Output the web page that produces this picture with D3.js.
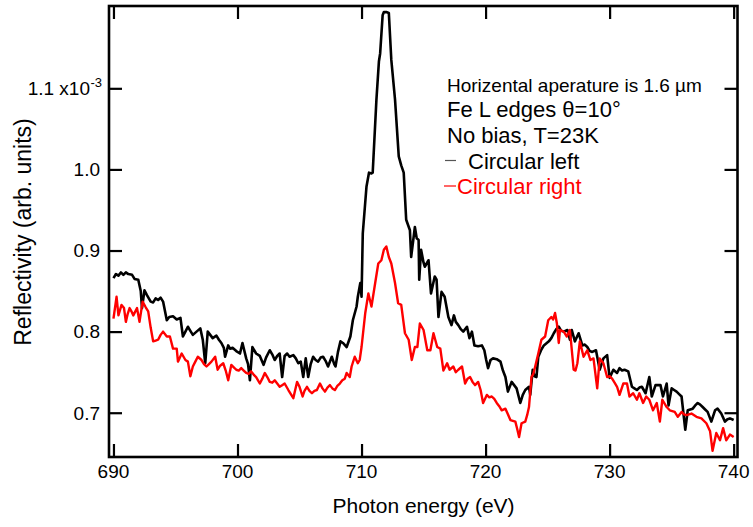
<!DOCTYPE html>
<html><head><meta charset="utf-8">
<script src="https://cdn.jsdelivr.net/npm/d3@7"></script>
<style>body{margin:0;background:#fff}text{font-family:"Liberation Sans",Arial,sans-serif}</style>
</head><body><div id="chart"></div>
<script>
// ---- data ----
const xTicks = [690, 700, 710, 720, 730, 740];
const yTicks = [0.7, 0.8, 0.9, 1.0, 1.1];
const yTickLabels = ["0.7", "0.8", "0.9", "1.0", "1.1 x10"];
const legendLines = ["Horizental aperature is 1.6 µm", "Fe L edges θ=10°", "No bias, T=23K"];
const seriesNames = ["Circular left", "Circular right"];

const leftE = [690.0,690.2,690.4,690.6,690.8,691.0,691.2,691.5,691.7,692.0,692.2,692.3,692.5,692.7,693.0,693.2,693.4,693.6,693.8,694.0,694.3,694.5,694.8,695.1,695.4,695.6,695.8,696.0,696.2,696.4,696.7,697.0,697.2,697.4,697.6,697.8,698.0,698.3,698.5,698.7,698.9,699.0,699.25,699.4,699.6,699.9,700.2,700.4,700.7,700.85,701.0,701.2,701.5,701.8,702.1,702.3,702.6,702.8,703.0,703.2,703.4,703.6,703.8,704.0,704.2,704.5,704.7,704.9,705.1,705.3,705.5,705.7,705.9,706.1,706.3,706.5,706.7,706.9,707.1,707.3,707.6,707.8,707.9,708.1,708.3,708.5,708.8,709.1,709.3,709.6,709.7,709.9,710.0,710.1,710.4,710.6,710.8,710.9,711.2,711.4,711.5,711.7,711.8,712.0,712.2,712.4,712.7,713.0,713.2,713.4,713.6,713.9,714.0,714.3,714.45,714.6,714.65,714.8,715.0,715.1,715.4,715.6,715.9,716.05,716.2,716.45,716.7,717.0,717.25,717.45,717.6,717.8,718.0,718.2,718.5,718.7,718.9,719.1,719.4,719.7,719.9,720.05,720.2,720.4,720.6,720.9,721.2,721.4,721.6,721.8,722.1,722.3,722.5,722.8,723.0,723.2,723.5,723.6,723.8,723.95,724.1,724.25,724.5,724.7,725.1,725.3,725.5,725.7,725.9,726.1,726.3,726.6,726.8,726.95,727.2,727.5,727.8,728.0,728.2,728.4,728.6,728.9,729.2,729.5,729.8,730.0,730.3,730.6,730.8,731.0,731.2,731.5,731.8,732.0,732.2,732.4,732.6,732.9,733.2,733.4,733.7,734.1,734.3,734.6,734.75,735.0,735.2,735.4,735.6,735.8,736.1,736.3,736.5,736.7,736.9,737.1,737.3,737.5,737.7,737.9,738.2,738.5,738.7,739.0,739.3,739.5,739.7,740.0];
const leftR = [0.866,0.871,0.869,0.873,0.870,0.873,0.871,0.870,0.865,0.864,0.850,0.829,0.851,0.845,0.837,0.836,0.841,0.839,0.842,0.837,0.814,0.818,0.819,0.815,0.817,0.794,0.800,0.806,0.801,0.796,0.800,0.804,0.790,0.761,0.800,0.796,0.792,0.795,0.790,0.786,0.780,0.769,0.783,0.779,0.780,0.776,0.773,0.786,0.767,0.760,0.740,0.781,0.773,0.770,0.759,0.768,0.777,0.772,0.765,0.770,0.773,0.744,0.770,0.773,0.769,0.771,0.767,0.761,0.763,0.744,0.767,0.744,0.760,0.769,0.765,0.763,0.768,0.769,0.764,0.757,0.769,0.760,0.757,0.775,0.788,0.786,0.781,0.794,0.814,0.831,0.843,0.860,0.843,0.921,0.979,0.996,0.995,0.996,1.086,1.133,1.143,1.190,1.194,1.194,1.193,1.135,1.086,1.016,1.005,0.996,0.938,0.925,0.892,0.929,0.915,0.913,0.864,0.901,0.885,0.880,0.888,0.847,0.868,0.864,0.818,0.849,0.843,0.818,0.808,0.820,0.812,0.808,0.803,0.800,0.806,0.792,0.800,0.783,0.782,0.783,0.777,0.765,0.755,0.765,0.767,0.766,0.763,0.752,0.744,0.726,0.738,0.734,0.730,0.712,0.722,0.728,0.732,0.722,0.753,0.745,0.744,0.769,0.778,0.783,0.788,0.792,0.798,0.803,0.806,0.801,0.800,0.802,0.790,0.802,0.788,0.798,0.783,0.784,0.781,0.776,0.775,0.777,0.753,0.767,0.771,0.743,0.753,0.749,0.755,0.752,0.753,0.751,0.732,0.730,0.728,0.731,0.732,0.724,0.744,0.720,0.734,0.734,0.720,0.736,0.709,0.730,0.728,0.726,0.723,0.720,0.679,0.703,0.704,0.705,0.709,0.712,0.710,0.707,0.704,0.701,0.689,0.703,0.705,0.699,0.689,0.692,0.693,0.691];

const rightE = [690.0,690.25,690.4,690.65,690.85,691.0,691.15,691.3,691.45,691.6,691.9,692.1,692.35,692.6,692.8,693.0,693.2,693.4,693.6,693.8,694.0,694.3,694.55,694.8,695.1,695.2,695.5,695.8,696.0,696.2,696.4,696.6,696.8,697.1,697.3,697.5,697.7,697.9,698.2,698.4,698.6,698.85,699.05,699.25,699.5,699.7,699.9,700.1,700.3,700.5,700.7,700.9,701.1,701.3,701.5,701.8,702.0,702.2,702.4,702.6,702.8,703.0,703.2,703.4,703.6,703.8,704.1,704.3,704.5,704.8,705.0,705.25,705.4,705.6,705.8,706.0,706.2,706.4,706.65,706.85,707.05,707.25,707.45,707.65,707.85,708.05,708.25,708.45,708.65,708.8,709.05,709.2,709.45,709.7,709.85,710.0,710.3,710.55,710.8,711.1,711.35,711.6,711.8,712.0,712.2,712.4,712.7,712.95,713.2,713.5,713.8,714.05,714.3,714.5,714.7,715.0,715.3,715.55,715.8,716.1,716.35,716.6,716.9,717.1,717.4,717.6,717.8,718.1,718.35,718.55,718.75,718.95,719.15,719.4,719.6,719.8,720.1,720.3,720.5,720.7,720.9,721.1,721.3,721.6,721.8,722.0,722.2,722.4,722.55,722.7,722.9,723.2,723.35,723.5,723.7,723.85,724.0,724.25,724.5,724.8,725.05,725.3,725.45,725.6,725.75,725.9,726.0,726.3,726.55,726.8,727.1,727.25,727.4,727.6,727.9,728.2,728.45,728.7,729.0,729.2,729.5,729.8,730.0,730.2,730.4,730.6,730.8,731.1,731.4,731.6,731.9,732.2,732.4,732.7,732.95,733.2,733.5,733.8,734.05,734.25,734.6,734.85,735.05,735.25,735.5,735.8,736.0,736.2,736.6,737.0,737.4,737.8,738.1,738.3,738.6,738.9,739.15,739.4,739.7,740.0];
const rightR = [0.816,0.843,0.820,0.833,0.829,0.812,0.822,0.829,0.825,0.820,0.829,0.812,0.837,0.830,0.825,0.805,0.788,0.789,0.790,0.796,0.800,0.794,0.794,0.779,0.779,0.763,0.773,0.765,0.763,0.745,0.757,0.763,0.769,0.765,0.760,0.757,0.760,0.763,0.769,0.753,0.758,0.761,0.752,0.740,0.759,0.756,0.753,0.752,0.755,0.752,0.749,0.748,0.751,0.747,0.744,0.736,0.742,0.749,0.744,0.738,0.737,0.740,0.736,0.732,0.734,0.736,0.728,0.723,0.718,0.738,0.732,0.720,0.727,0.732,0.727,0.724,0.727,0.728,0.736,0.730,0.726,0.731,0.734,0.730,0.728,0.733,0.736,0.740,0.742,0.749,0.744,0.757,0.769,0.761,0.765,0.781,0.823,0.847,0.831,0.860,0.884,0.888,0.901,0.905,0.892,0.884,0.860,0.835,0.833,0.798,0.790,0.765,0.781,0.781,0.810,0.802,0.777,0.777,0.798,0.781,0.779,0.752,0.761,0.753,0.757,0.750,0.753,0.757,0.736,0.742,0.744,0.738,0.734,0.738,0.728,0.712,0.722,0.719,0.720,0.717,0.712,0.708,0.703,0.705,0.698,0.691,0.690,0.689,0.680,0.670,0.687,0.689,0.697,0.707,0.744,0.748,0.757,0.773,0.790,0.794,0.814,0.818,0.815,0.823,0.810,0.786,0.802,0.800,0.794,0.802,0.753,0.752,0.761,0.788,0.769,0.777,0.765,0.767,0.730,0.767,0.761,0.744,0.745,0.742,0.737,0.732,0.722,0.736,0.736,0.720,0.724,0.716,0.724,0.712,0.720,0.716,0.703,0.712,0.689,0.716,0.707,0.703,0.702,0.701,0.695,0.701,0.698,0.697,0.699,0.695,0.693,0.687,0.677,0.653,0.675,0.666,0.681,0.666,0.673,0.670];

// ---- layout ----
const W = 753, H = 527;
const L = 109, R = 737.5, T = 6, B = 457;
const x = d3.scaleLinear().domain([689.64, 740.31]).range([L, R]);
const y = d3.scaleLinear().domain([0.6454, 1.2015]).range([B, T]);

const svg = d3.select("#chart").append("svg").attr("width", W).attr("height", H);

svg.append("clipPath").attr("id", "clip").append("rect")
  .attr("x", L).attr("y", T).attr("width", R - L).attr("height", B - T);

// ticks (inward, all four sides)
const tickLen = 13;
const gB = svg.append("g").attr("transform", `translate(0,${B})`)
  .call(d3.axisBottom(x).tickValues(xTicks).tickSize(-tickLen).tickFormat(""));
const gT = svg.append("g").attr("transform", `translate(0,${T})`)
  .call(d3.axisTop(x).tickValues(xTicks).tickSize(-tickLen).tickFormat(""));
const gL = svg.append("g").attr("transform", `translate(${L},0)`)
  .call(d3.axisLeft(y).tickValues(yTicks).tickSize(-tickLen).tickFormat(""));
const gR = svg.append("g").attr("transform", `translate(${R},0)`)
  .call(d3.axisRight(y).tickValues(yTicks).tickSize(-tickLen).tickFormat(""));
[gB, gT, gL, gR].forEach(g => {
  g.select(".domain").remove();
  g.selectAll(".tick line").attr("stroke", "#000").attr("stroke-width", 2.2);
});

// lines
const line = d3.line().x(d => x(d[0])).y(d => y(d[1]));
const plot = svg.append("g").attr("clip-path", "url(#clip)");
plot.append("path").datum(d3.zip(leftE, leftR))
  .attr("d", line).attr("fill", "none").attr("stroke", "#000")
  .attr("stroke-width", 2.6).attr("stroke-linejoin", "round");
plot.append("path").datum(d3.zip(rightE, rightR))
  .attr("d", line).attr("fill", "none").attr("stroke", "#ff0000")
  .attr("stroke-width", 2.4).attr("stroke-linejoin", "round");

// frame
svg.append("rect").attr("x", L).attr("y", T).attr("width", R - L).attr("height", B - T)
  .attr("fill", "none").attr("stroke", "#000").attr("stroke-width", 2.6);

// tick labels
svg.append("g").selectAll("text").data(xTicks).join("text")
  .attr("x", d => x(d)).attr("y", 478).attr("text-anchor", "middle")
  .attr("font-size", 19).text(d => d);
svg.append("g").selectAll("text").data(yTicks).join("text")
  .attr("x", (d, i) => i === 4 ? 90 : 100).attr("y", d => y(d) + 6.8)
  .attr("text-anchor", "end").attr("font-size", 19)
  .text((d, i) => yTickLabels[i]);
svg.append("text").attr("x", 90.5).attr("y", y(1.1) - 1).attr("font-size", 13)
  .text("-3");

// axis titles
svg.append("text").attr("x", (x(690) + x(740)) / 2).attr("y", 513)
  .attr("text-anchor", "middle").attr("font-size", 21).text("Photon energy (eV)");
svg.append("text").attr("transform", `translate(31,232) rotate(-90)`)
  .attr("text-anchor", "middle").attr("font-size", 23).text("Reflectivity (arb. units)");

// annotations / legend
svg.append("text").attr("x", 447).attr("y", 92.3).attr("font-size", 19).text(legendLines[0]);
svg.append("text").attr("x", 447).attr("y", 116.7).attr("font-size", 22).text(legendLines[1]);
svg.append("text").attr("x", 447).attr("y", 142.5).attr("font-size", 22).text(legendLines[2]);
svg.append("line").attr("x1", 445).attr("x2", 456).attr("y1", 160.5).attr("y2", 160.5)
  .attr("stroke", "#555").attr("stroke-width", 1.2);
svg.append("text").attr("x", 468).attr("y", 169).attr("font-size", 22).text(seriesNames[0]);
svg.append("line").attr("x1", 444).attr("x2", 456).attr("y1", 186).attr("y2", 186)
  .attr("stroke", "#ff0000").attr("stroke-width", 1.2);
svg.append("text").attr("x", 457).attr("y", 194).attr("font-size", 22).attr("fill", "#ff0000")
  .text(seriesNames[1]);
</script></body></html>
